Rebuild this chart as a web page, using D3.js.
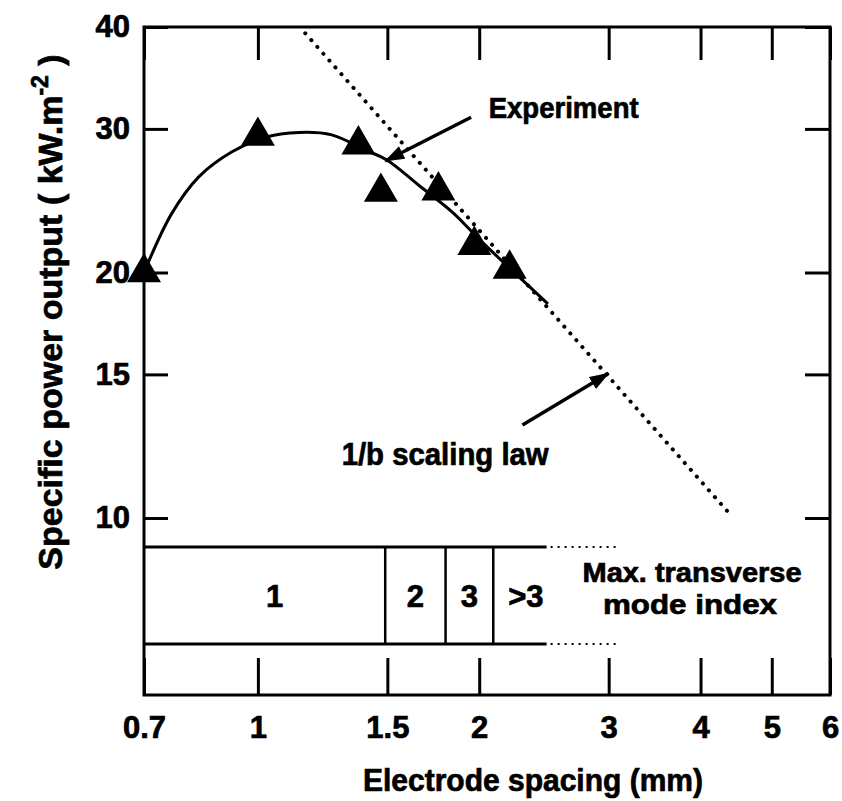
<!DOCTYPE html>
<html>
<head>
<meta charset="utf-8">
<script src="https://cdn.jsdelivr.net/npm/d3@7"></script>
<style>
  body { margin: 0; background: #fff; }
  text { font-family: "Liberation Sans", Arial, Helvetica, sans-serif; font-weight: bold; fill: #000;
         stroke: #000; stroke-width: 0.7px; }
</style>
</head>
<body>
<div id="chart"></div>
<script>
// data
const spacing = [0.7, 1.0, 1.37, 1.47, 1.76, 1.97, 2.2]        // mm
const power = [20, 29.4, 28.7, 25.1, 25.2, 21.6, 20.2]        // kW.m-2
const curveX = [0.7, 0.763, 0.831, 0.921, 1.023, 1.138, 1.26, 1.407, 1.496, 1.663, 1.84, 2.007, 2.273, 2.48]
const curveY = [20, 23.6, 26.2, 28.1, 29.3, 29.7, 29.5, 28.2, 27.5, 25.5, 23.7, 21.9, 19.7, 18.3]
const lawX = [1.16, 4.39]
const lawY = [39.3, 10.1]
const xTicks = [0.7, 1, 1.5, 2, 3, 4, 5, 6]
const yTicks = [10, 15, 20, 30, 40]
const modeBounds = [0.7, 1.49, 1.8, 2.09, 2.47]
const modeLabels = ["1", "2", "3", ">3"]
const modeDotsEnd = 3.1

const W = 842, H = 801
const frame = { left: 144, right: 830, top: 27, bottom: 695 }
const tableTop = 547, tableBottom = 644

const svg = d3.select("#chart").append("svg")
  .attr("width", W).attr("height", H)

const x = d3.scaleLog().domain([0.7, 6]).range([frame.left, frame.right])
const y = d3.scaleLog().domain([10, 40]).range([518, frame.top])

// axes, ticks pointing inward
const fmt = d => d3.format("")(d)
svg.append("g")
  .attr("transform", "translate(0," + frame.bottom + ")")
  .call(d3.axisBottom(x).tickValues(xTicks).tickFormat(fmt).tickSizeInner(-37).tickSizeOuter(0).tickPadding(21))
svg.append("g")
  .attr("transform", "translate(0," + frame.top + ")")
  .call(d3.axisTop(x).tickValues(xTicks).tickFormat("").tickSizeInner(-33).tickSizeOuter(0))
svg.append("g")
  .attr("transform", "translate(" + frame.left + ",0)")
  .call(d3.axisLeft(y).tickValues(yTicks).tickFormat(fmt).tickSizeInner(-24).tickSizeOuter(0).tickPadding(14))
svg.append("g")
  .attr("transform", "translate(" + frame.right + ",0)")
  .call(d3.axisRight(y).tickValues(yTicks).tickFormat("").tickSizeInner(-25).tickSizeOuter(0))

svg.selectAll(".domain").remove()
svg.selectAll(".tick line").attr("stroke", "#000").attr("stroke-width", 3)
svg.selectAll(".tick text").attr("font-size", 31).attr("font-family", null).attr("fill", null)

// frame
svg.append("rect")
  .attr("x", frame.left).attr("y", frame.top)
  .attr("width", frame.right - frame.left).attr("height", frame.bottom - frame.top)
  .attr("fill", "none").attr("stroke", "#000").attr("stroke-width", 3)

// 1/b scaling law (dotted)
svg.append("path")
  .datum(d3.zip(lawX, lawY))
  .attr("fill", "none")
  .attr("stroke", "#000")
  .attr("stroke-width", 4)
  .attr("stroke-linecap", "round")
  .attr("stroke-dasharray", "0.1 9")
  .attr("d", d3.line().x(d => x(d[0])).y(d => y(d[1])))

// experiment fit curve
svg.append("path")
  .datum(d3.zip(curveX, curveY))
  .attr("fill", "none")
  .attr("stroke", "#000")
  .attr("stroke-width", 3)
  .attr("d", d3.line().curve(d3.curveCatmullRom).x(d => x(d[0])).y(d => y(d[1])))

// measured points
svg.selectAll(".pt")
  .data(d3.zip(spacing, power))
  .enter().append("path")
  .attr("class", "pt")
  .attr("transform", d => "translate(" + x(d[0]) + "," + y(d[1]) + ")")
  .attr("d", d3.symbol(d3.symbolTriangle, 500))
  .attr("fill", "#000")

// arrows
const defs = svg.append("defs")
defs.append("marker")
  .attr("id", "arr").attr("viewBox", "0 0 20 14")
  .attr("refX", 19).attr("refY", 7)
  .attr("markerWidth", 20).attr("markerHeight", 14)
  .attr("markerUnits", "userSpaceOnUse")
  .attr("orient", "auto")
  .append("path").attr("d", "M0,0L20,7L0,14z").attr("fill", "#000")

const arrows = [
  { from: [1.95, 31.0], to: [1.49, 27.4] },
  { from: [2.29, 13.0], to: [3.0, 15.05] }
]
svg.selectAll(".arrow")
  .data(arrows)
  .enter().append("line")
  .attr("x1", d => x(d.from[0])).attr("y1", d => y(d.from[1]))
  .attr("x2", d => x(d.to[0])).attr("y2", d => y(d.to[1]))
  .attr("stroke", "#000").attr("stroke-width", 3.5)
  .attr("marker-end", "url(#arr)")

svg.append("text")
  .attr("x", x(2.06)).attr("y", y(30.9))
  .attr("font-size", 30)
  .attr("textLength", 150).attr("lengthAdjust", "spacingAndGlyphs")
  .text("Experiment")

svg.append("text")
  .attr("x", x(1.30)).attr("y", y(11.6))
  .attr("font-size", 31)
  .attr("textLength", 207).attr("lengthAdjust", "spacingAndGlyphs")
  .text("1/b scaling law")

// mode index table
const tbl = svg.append("g")
;[tableTop, tableBottom].forEach(ty => {
  tbl.append("line")
    .attr("x1", frame.left).attr("x2", x(modeBounds[modeBounds.length - 1]))
    .attr("y1", ty).attr("y2", ty)
    .attr("stroke", "#000").attr("stroke-width", 3)
  tbl.append("line")
    .attr("x1", x(modeBounds[modeBounds.length - 1]) + 4).attr("x2", x(modeDotsEnd))
    .attr("y1", ty).attr("y2", ty)
    .attr("stroke", "#000").attr("stroke-width", 2)
    .attr("stroke-dasharray", "2 5")
})
tbl.selectAll(".sep")
  .data(modeBounds.slice(1, -1))
  .enter().append("line")
  .attr("x1", d => x(d)).attr("x2", d => x(d))
  .attr("y1", tableTop).attr("y2", tableBottom)
  .attr("stroke", "#000").attr("stroke-width", 2.5)
tbl.selectAll(".mode")
  .data(modeLabels)
  .enter().append("text")
  .attr("x", (d, i) => x(Math.sqrt(modeBounds[i] * modeBounds[i + 1])) + (i === 0 ? 10 : i === 3 ? 6 : 0))
  .attr("y", 607)
  .attr("text-anchor", "middle")
  .attr("font-size", 31)
  .text(d => d)

tbl.append("text")
  .attr("x", 692).attr("y", 582)
  .attr("text-anchor", "middle")
  .attr("font-size", 27)
  .attr("textLength", 219).attr("lengthAdjust", "spacingAndGlyphs")
  .text("Max. transverse")
tbl.append("text")
  .attr("x", 690).attr("y", 614)
  .attr("text-anchor", "middle")
  .attr("font-size", 27)
  .attr("textLength", 174).attr("lengthAdjust", "spacingAndGlyphs")
  .text("mode index")

// axis titles
svg.append("text")
  .attr("x", 533).attr("y", 791)
  .attr("text-anchor", "middle")
  .attr("font-size", 31)
  .attr("textLength", 340).attr("lengthAdjust", "spacingAndGlyphs")
  .text("Electrode spacing (mm)")

const yl = svg.append("text")
  .attr("transform", "translate(62,312) rotate(-90)")
  .attr("text-anchor", "middle")
  .attr("font-size", 34)
yl.append("tspan").text("Specific power output ( kW.m")
yl.append("tspan").attr("dy", -14).attr("font-size", 23).text("-2")
yl.append("tspan").attr("dy", 14).text(" )")
</script>
</body>
</html>
